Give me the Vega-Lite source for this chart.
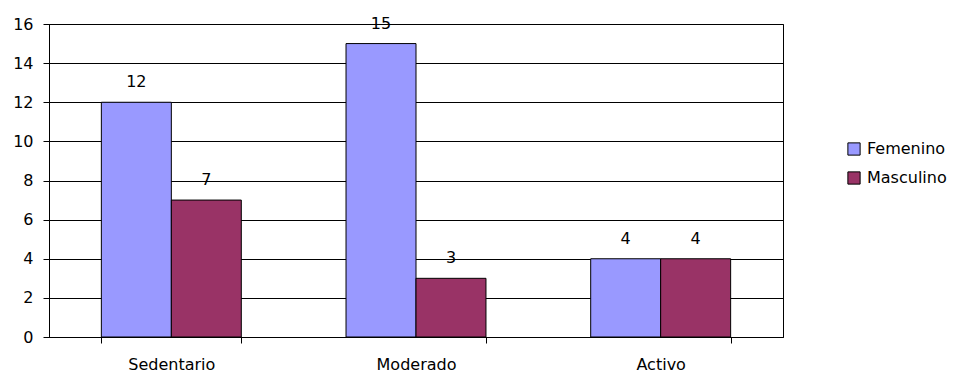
{
  "$schema": "https://vega.github.io/schema/vega-lite/v6.json",
  "autosize": {"type": "none"},
  "padding": {"left": 49, "top": 24, "right": 178, "bottom": 35},
  "width": 734,
  "height": 313,
  "background": "white",
  "data": {
    "values": [
      {"nivel": "Sedentario", "sexo": "Femenino", "n": 12},
      {"nivel": "Sedentario", "sexo": "Masculino", "n": 7},
      {"nivel": "Moderado", "sexo": "Femenino", "n": 15},
      {"nivel": "Moderado", "sexo": "Masculino", "n": 3},
      {"nivel": "Activo", "sexo": "Femenino", "n": 4},
      {"nivel": "Activo", "sexo": "Masculino", "n": 4}
    ]
  },
  "config": {
    "font": "DejaVu Sans",
    "view": {"stroke": "black", "strokeWidth": 1},
    "axis": {
      "labelFont": "DejaVu Sans",
      "labelFontSize": 16,
      "labelColor": "black",
      "domainColor": "black",
      "tickColor": "black",
      "gridColor": "black",
      "gridOpacity": 1,
      "title": null
    }
  },
  "encoding": {
    "x": {
      "field": "nivel",
      "type": "nominal",
      "sort": ["Sedentario", "Moderado", "Activo"],
      "scale": {"paddingInner": 0.428, "paddingOuter": 0.214},
      "axis": {
        "labelAngle": 0,
        "tickBand": "extent",
        "tickSize": 6,
        "labelPadding": 13,
        "grid": false
      }
    },
    "xOffset": {
      "field": "sexo",
      "type": "nominal",
      "sort": ["Femenino", "Masculino"],
      "scale": {"paddingInner": 0, "paddingOuter": 0}
    },
    "y": {
      "field": "n",
      "type": "quantitative",
      "scale": {"domain": [0, 16], "nice": false},
      "axis": {
        "values": [0, 2, 4, 6, 8, 10, 12, 14, 16],
        "tickSize": 6,
        "labelPadding": 10,
        "grid": true
      }
    }
  },
  "layer": [
    {
      "mark": {"type": "bar", "stroke": "black", "strokeWidth": 1},
      "encoding": {
        "color": {
          "field": "sexo",
          "type": "nominal",
          "sort": ["Femenino", "Masculino"],
          "scale": {"domain": ["Femenino", "Masculino"], "range": ["#9999FF", "#993366"]},
          "legend": {
            "title": null,
            "orient": "none",
            "legendX": 797,
            "legendY": 117,
            "symbolType": "square",
            "symbolSize": 150,
            "symbolStrokeColor": "black",
            "symbolStrokeWidth": 1,
            "symbolOpacity": 1,
            "labelFont": "DejaVu Sans",
            "labelFontSize": 16,
            "labelColor": "black",
            "labelOffset": 5,
            "rowPadding": 11
          }
        }
      }
    },
    {
      "mark": {"type": "text", "baseline": "alphabetic", "dy": -15, "fontSize": 16, "font": "DejaVu Sans", "color": "black"},
      "encoding": {
        "text": {"field": "n", "type": "quantitative"}
      }
    }
  ]
}
